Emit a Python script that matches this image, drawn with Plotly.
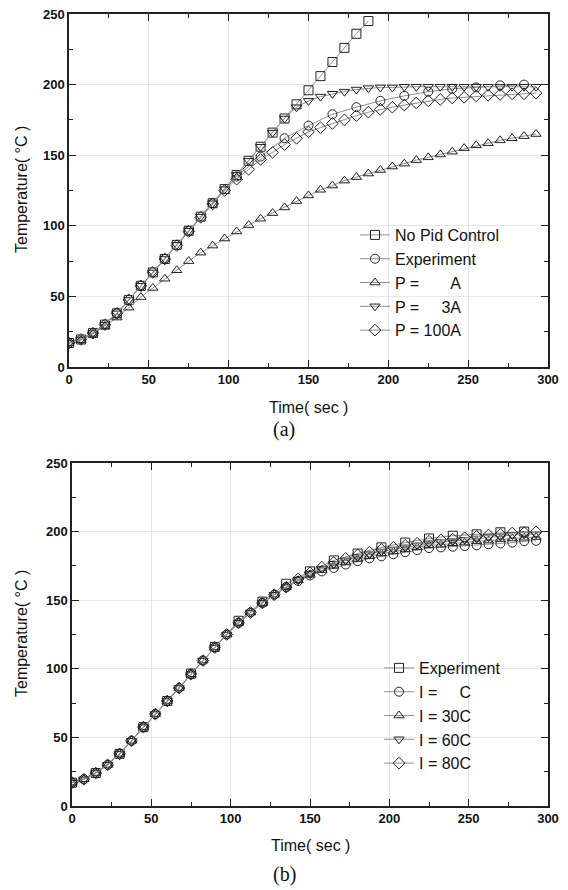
import plotly.graph_objects as go

NB = "\u00a0"

# ---------------- data : chart (a) ----------------
t_sim = [0, 7.5, 15, 22.5, 30, 37.5, 45, 52.5, 60, 67.5, 75, 82.5, 90, 97.5, 105, 112.5,
         120, 127.5, 135, 142.5, 150, 157.5, 165, 172.5, 180, 187.5, 195, 202.5, 210, 217.5,
         225, 232.5, 240, 247.5, 255, 262.5, 270, 277.5, 285, 292.5]
t_exp = [0, 15, 30, 45, 60, 75, 90, 105, 120, 135, 150, 165, 180, 195, 210, 225, 240, 255, 270, 285]
t_nopid = [0, 7.5, 15, 22.5, 30, 37.5, 45, 52.5, 60, 67.5, 75, 82.5, 90, 97.5, 105, 112.5,
           120, 127.5, 135, 142.5, 150, 157.5, 165, 172.5, 180, 187.5]

a_nopid = [17, 19.5, 24, 30, 38, 47.5, 57.5, 67, 76.5, 86.5, 96.5, 106.5, 116, 126, 136, 146,
           156, 166, 176, 186, 196, 206, 216, 226, 236, 245]
a_experiment = [17, 24, 38, 57.5, 76.5, 96.5, 116, 135, 149, 162, 171, 179, 184, 188.5, 192,
                195, 197, 198, 199.5, 200]
a_p_a = [17, 19, 23.5, 29, 35, 42, 49.5, 56, 62.5, 68.5, 75, 81, 86, 91, 96, 100.5,
         105, 109, 113, 117.5, 121.5, 125.5, 128.5, 132, 134.5, 137, 139.5, 142, 144, 146.5,
         148.5, 150.5, 152.5, 155, 157, 158.5, 160.5, 162, 163.5, 165]
a_p_3a = [17, 19.5, 24, 30, 38, 47.5, 57.5, 67, 76.5, 86.5, 96.5, 106.5, 116, 126, 136, 146,
          156, 166, 176, 184, 188.5, 191.5, 193.5, 195, 196.5, 197.5, 198, 198, 198.5, 198.5,
          198.5, 198.5, 198.5, 198.5, 198.5, 198.5, 198.5, 198.5, 198.5, 198.5]
a_p_100a = [17, 19.5, 24, 30, 38, 47.5, 57.5, 67, 76.5, 86, 96, 106, 115.5, 125, 133, 140,
            147, 152, 157.5, 162, 166.5, 169.5, 172.5, 175, 178, 180.5, 182.5, 184, 185.5, 187,
            188.5, 189.5, 190.5, 191, 192, 192.5, 193, 193.5, 193.5, 194]

# ---------------- data : chart (b) ----------------
b_experiment = [17, 24, 38, 57.5, 76.5, 96.5, 116, 135, 149, 162, 171, 179, 184, 188.5, 192,
                195, 197, 198, 199.5, 200]
b_i_c = [17, 19.5, 24, 30, 38, 47.5, 57.5, 67, 76.5, 86, 96, 106, 115.5, 125, 133.5, 141,
         148, 154, 159.5, 164, 168, 171, 173.5, 176, 178.5, 180.5, 182, 183.5, 185, 186.5,
         188, 188.5, 189, 189.5, 190, 190.8, 191.4, 192, 193, 193.3]
b_i_30c = [17, 19.5, 24, 30, 38, 47.5, 57.5, 67, 76.5, 86, 96, 106, 115.5, 125, 133.5, 141,
           148, 154, 159.5, 164.5, 168.5, 172, 175, 177.5, 180, 182, 184, 185.5, 187, 188.5,
           190, 190.5, 191.5, 192, 193, 193.5, 194.5, 195, 195.5, 196]
b_i_60c = [17, 19.5, 24, 30, 38, 47.5, 57.5, 67, 76.5, 86, 96, 106, 115.5, 125, 133.5, 141,
           148, 154, 159.5, 165, 169.5, 173, 176.5, 179, 181.5, 183.5, 185.5, 187, 188.5, 190,
           191.5, 192.5, 193, 194, 195, 196, 196.5, 197.5, 198, 198]
b_i_80c = [17, 19.5, 24, 30, 38, 47.5, 57.5, 67, 76.5, 86, 96, 106, 115.5, 125, 133.5, 141,
           148, 154, 159.5, 165.5, 170, 174, 177.5, 180.5, 183, 185, 187, 188.5, 190, 191.5,
           193, 194, 194.5, 195.5, 196.5, 197.5, 198, 199, 199.3, 199.8]

a_names = ["No Pid Control", "Experiment", "P =" + NB * 7 + "A", "P =" + NB * 5 + "3A", "P = 100A"]
b_names = ["Experiment", "I =" + NB * 5 + "C", "I = 30C", "I = 60C", "I = 80C"]
x_ticks = [0, 50, 100, 150, 200, 250, 300]
y_ticks = [0, 50, 100, 150, 200, 250]

W, H = 568, 890
FONT = "Liberation Sans, Arial, sans-serif"

fig = go.Figure()


def add(x, y, name, symbol, xa, ya, leg):
    fig.add_trace(go.Scatter(
        x=x, y=y, name=name, mode="lines+markers",
        line=dict(color="#909090", width=1),
        marker=dict(symbol=symbol, size=9, color="#222", line=dict(color="#222", width=1)),
        xaxis=xa, yaxis=ya, legend=leg, cliponaxis=True))


add(t_nopid, a_nopid, a_names[0], "square-open", "x", "y", "legend")
add(t_exp, a_experiment, a_names[1], "circle-open", "x", "y", "legend")
add(t_sim, a_p_a, a_names[2], "triangle-up-open", "x", "y", "legend")
add(t_sim, a_p_3a, a_names[3], "triangle-down-open", "x", "y", "legend")
add(t_sim, a_p_100a, a_names[4], "diamond-open", "x", "y", "legend")

add(t_exp, b_experiment, b_names[0], "square-open", "x2", "y2", "legend2")
add(t_sim, b_i_c, b_names[1], "circle-open", "x2", "y2", "legend2")
add(t_sim, b_i_30c, b_names[2], "triangle-up-open", "x2", "y2", "legend2")
add(t_sim, b_i_60c, b_names[3], "triangle-down-open", "x2", "y2", "legend2")
add(t_sim, b_i_80c, b_names[4], "diamond-open", "x2", "y2", "legend2")

common = dict(
    ticks="inside", ticklen=7, tickwidth=1, tickcolor="#222",
    showline=True, linecolor="#222", linewidth=1.5, mirror="ticks",
    showgrid=True, gridcolor="#e6e6e6", gridwidth=1, zeroline=False,
    tickfont=dict(family=FONT, size=13, color="#111", weight="bold"),
    automargin=False, fixedrange=True,
    minor=dict(ticks="inside", ticklen=4, tickwidth=1, tickcolor="#222", showgrid=False),
)

# domains in paper coordinates
xa_dom = [69 / W, 548 / W]
ya_dom = [1 - 367 / H, 1 - 14 / H]
xb_dom = [72 / W, 548 / W]
yb_dom = [1 - 806 / H, 1 - 463 / H]

leg_font = dict(family=FONT, size=16, color="#111")
fig.update_layout(
    width=W, height=H,
    margin=dict(l=0, r=0, t=0, b=0),
    paper_bgcolor="white", plot_bgcolor="white",
    font=dict(family=FONT, color="#111"),
    xaxis=dict(domain=xa_dom, anchor="y", range=[0, 300], tickvals=x_ticks, **common),
    yaxis=dict(domain=ya_dom, anchor="x", range=[0, 250], tickvals=y_ticks, **common),
    xaxis2=dict(domain=xb_dom, anchor="y2", range=[0, 300], tickvals=x_ticks, **common),
    yaxis2=dict(domain=yb_dom, anchor="x2", range=[0, 250], tickvals=y_ticks, **common),
    legend=dict(x=355 / W, y=1 - 218 / H, xanchor="left", yanchor="top",
                bgcolor="rgba(0,0,0,0)", font=leg_font, tracegroupgap=0, itemwidth=30),
    legend2=dict(x=379 / W, y=1 - 651 / H, xanchor="left", yanchor="top",
                 bgcolor="rgba(0,0,0,0)", font=leg_font, tracegroupgap=0, itemwidth=30),
)
for ax in ["xaxis", "yaxis", "xaxis2", "yaxis2"]:
    fig.layout[ax].minor.dtick = 25

ann_font = dict(family=FONT, size=16, color="#111")
serif = dict(family="Liberation Serif, Times New Roman, serif", size=20, color="#111")
fig.add_annotation(text="Temperature( °C )", x=22 / W, y=1 - 190 / H, xref="paper", yref="paper",
                   textangle=-90, showarrow=False, font=ann_font, xanchor="center", yanchor="middle")
fig.add_annotation(text="Time( sec )", x=308 / W, y=1 - 407 / H, xref="paper", yref="paper",
                   showarrow=False, font=ann_font, xanchor="center", yanchor="middle")
fig.add_annotation(text="(a)", x=284 / W, y=1 - 429 / H, xref="paper", yref="paper",
                   showarrow=False, font=serif, xanchor="center", yanchor="middle")
fig.add_annotation(text="Temperature( °C )", x=21 / W, y=1 - 634 / H, xref="paper", yref="paper",
                   textangle=-90, showarrow=False, font=ann_font, xanchor="center", yanchor="middle")
fig.add_annotation(text="Time( sec )", x=310 / W, y=1 - 845 / H, xref="paper", yref="paper",
                   showarrow=False, font=ann_font, xanchor="center", yanchor="middle")
fig.add_annotation(text="(b)", x=284 / W, y=1 - 874 / H, xref="paper", yref="paper",
                   showarrow=False, font=serif, xanchor="center", yanchor="middle")

fig.write_html("out.html")
